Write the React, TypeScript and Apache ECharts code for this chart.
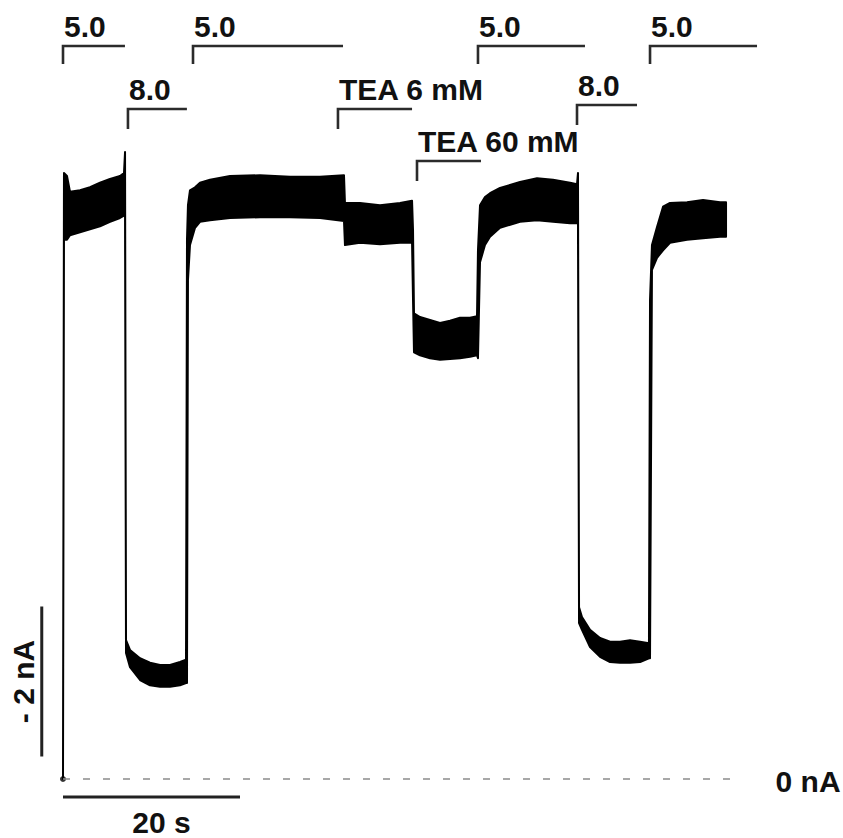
import React, { useEffect, useRef } from "react";
import * as echarts from "echarts";

// ---- Trace (time in s, current envelope in nA) ----
const traceTime = [0, 0.11, 0.45, 0.79, 1.92, 3.05, 4.18, 5.31, 6.44, 6.89, 7.01, 7.12, 7.57, 8.70, 9.83, 10.96, 12.09, 13.22, 13.90, 14.01, 14.12, 14.35, 14.92, 15.48, 16.61, 18.87, 22.26, 25.65, 29.04, 31.75, 31.86, 33.56, 35.82, 38.08, 39.44, 39.55, 39.66, 40.34, 41.47, 42.60, 43.73, 44.86, 45.99, 46.78, 46.89, 47.12, 47.68, 48.25, 49.38, 51.64, 53.56, 55.37, 57.29, 58.08, 58.19, 58.31, 58.64, 59.55, 60.68, 61.81, 62.94, 64.07, 65.20, 66.21, 66.33, 66.55, 67.12, 67.80, 68.59, 70.51, 72.32, 74.24, 74.92];
const traceUpper = [0, 8.08, 8.04, 7.83, 7.85, 7.89, 7.95, 8.00, 8.04, 8.08, 8.36, 1.85, 1.72, 1.61, 1.55, 1.52, 1.52, 1.56, 1.59, 7.19, 7.65, 7.85, 7.89, 7.95, 7.99, 8.04, 8.05, 8.03, 8.03, 8.05, 7.68, 7.68, 7.65, 7.68, 7.71, 7.32, 6.21, 6.16, 6.12, 6.08, 6.11, 6.15, 6.15, 6.17, 7.05, 7.65, 7.76, 7.81, 7.88, 7.96, 8.01, 7.99, 7.95, 7.93, 8.08, 2.29, 2.16, 1.99, 1.88, 1.83, 1.83, 1.85, 1.83, 1.81, 6.39, 7.12, 7.36, 7.63, 7.68, 7.69, 7.72, 7.69, 7.69];
const traceLower = [0, 7.19, 7.19, 7.25, 7.29, 7.33, 7.37, 7.43, 7.48, 7.51, 7.51, 1.68, 1.49, 1.32, 1.25, 1.23, 1.23, 1.25, 1.28, 1.28, 6.65, 7.12, 7.35, 7.43, 7.45, 7.48, 7.49, 7.49, 7.48, 7.44, 7.12, 7.15, 7.13, 7.15, 7.15, 6.39, 5.69, 5.65, 5.61, 5.59, 5.60, 5.61, 5.63, 5.65, 5.61, 6.89, 7.12, 7.23, 7.35, 7.43, 7.45, 7.43, 7.41, 7.41, 7.41, 2.08, 1.99, 1.76, 1.63, 1.56, 1.55, 1.55, 1.56, 1.61, 1.61, 6.79, 6.95, 7.05, 7.15, 7.19, 7.21, 7.23, 7.23];

// ---- Solution bars ----
const bracketLabels = ["5.0", "8.0", "5.0", "TEA 6 mM", "TEA 60 mM", "5.0", "8.0", "5.0"];
const bracketStart = [0, 7.34, 14.69, 31.07, 40.0, 46.89, 58.08, 66.33];
const bracketEnd = [7.0, 14.0, 31.64, 39.44, 47.23, 58.98, 64.86, 78.42];
const bracketRow = [0, 1, 0, 1, 3, 0, 2, 0];

// ---- Scale / reference ----
const zeroLineEnd = 76; // s
const scaleTime = 20; // s
const scaleCurrent = 2; // nA
const zeroLabel = "0 nA";
const timeLabel = "20 s";
const currentLabel = "- 2 nA";

const ROW_PX = [46, 109, 105, 161];
const FONT = 'bold 30px "Liberation Sans", Arial, Helvetica, sans-serif';

export default function App() {
  const ref = useRef<HTMLDivElement>(null);
  useEffect(() => {
    if (!ref.current) return;
    const chart = echarts.init(ref.current, undefined, { renderer: "svg" });
    const option: any = {
      animation: false,
      backgroundColor: "#ffffff",
      grid: { left: 1.05, top: 29, width: 840.75, height: 802.5 },
      xAxis: { type: "value", min: -7, max: 88, show: false, splitLine: { show: false } },
      yAxis: { type: "value", min: -0.7, max: 10, show: false, splitLine: { show: false } },
      series: [
        {
          type: "line",
          name: "zero",
          data: [[0, 0], [zeroLineEnd, 0]],
          symbol: "none",
          lineStyle: { color: "#8c8c8c", width: 1.5, type: [7, 13] },
          silent: true,
        },
        {
          type: "custom",
          name: "trace",
          clip: false,
          data: [[0, 0]],
          renderItem: (params: any, api: any) => {
            const up = traceTime.map((t, i) => api.coord([t, traceUpper[i]]));
            const lo = traceTime.map((t, i) => api.coord([t, traceLower[i]])).reverse();
            return {
              type: "polygon",
              shape: { points: up.concat(lo) },
              style: { fill: "#000", stroke: "#000", lineWidth: 2, lineJoin: "round" },
            };
          },
        },
        {
          type: "scatter",
          name: "start",
          data: [[0, 0]],
          symbolSize: 6,
          itemStyle: { color: "#000" },
        },
        {
          type: "custom",
          name: "bars",
          clip: false,
          data: bracketStart.map((s, i) => [s, bracketEnd[i]]),
          renderItem: (params: any, api: any) => {
            const i = params.dataIndex;
            const x0 = api.coord([api.value(0), 0])[0];
            const x1 = api.coord([api.value(1), 0])[0];
            const y = ROW_PX[bracketRow[i]];
            const tick = bracketRow[i] === 0 ? 18 : 20;
            return {
              type: "group",
              children: [
                {
                  type: "polyline",
                  shape: { points: [[x0, y + tick], [x0, y], [x1, y]] },
                  style: { stroke: "#2b2b2b", lineWidth: 2.6, fill: null },
                },
                {
                  type: "text",
                  x: x0 + 1,
                  y: y - 20,
                  style: { text: bracketLabels[i], font: FONT, fill: "#111", align: "left", verticalAlign: "middle" },
                },
              ],
            };
          },
        },
        {
          type: "custom",
          name: "scale",
          clip: false,
          data: [[0, 0]],
          renderItem: (params: any, api: any) => {
            const vb0 = api.coord([-2.4, 0.3]);
            const vb1 = api.coord([-2.4, 0.3 + scaleCurrent]);
            const hb0 = api.coord([0, -0.24]);
            const hb1 = api.coord([scaleTime, -0.24]);
            const z = api.coord([zeroLineEnd, 0]);
            return {
              type: "group",
              children: [
                { type: "line", shape: { x1: vb0[0], y1: vb0[1], x2: vb1[0], y2: vb1[1] }, style: { stroke: "#222", lineWidth: 3 } },
                { type: "line", shape: { x1: hb0[0], y1: hb0[1], x2: hb1[0], y2: hb1[1] }, style: { stroke: "#222", lineWidth: 3 } },
                {
                  type: "text",
                  x: vb0[0] - 18,
                  y: (vb0[1] + vb1[1]) / 2,
                  rotation: Math.PI / 2,
                  style: { text: currentLabel, font: FONT, fill: "#111", align: "center", verticalAlign: "middle" },
                },
                {
                  type: "text",
                  x: (hb0[0] + hb1[0]) / 2 + 10,
                  y: hb0[1] + 25,
                  style: { text: timeLabel, font: FONT, fill: "#111", align: "center", verticalAlign: "middle" },
                },
                {
                  type: "text",
                  x: z[0] + 40,
                  y: z[1] + 2,
                  style: { text: zeroLabel, font: FONT, fill: "#111", align: "left", verticalAlign: "middle" },
                },
              ],
            };
          },
        },
      ],
    };
    chart.setOption(option);
    return () => chart.dispose();
  }, []);
  return (
    <div
      ref={ref}
      style={{ position: "absolute", left: 0, top: 0, width: 843, height: 838, background: "#fff" }}
    />
  );
}
